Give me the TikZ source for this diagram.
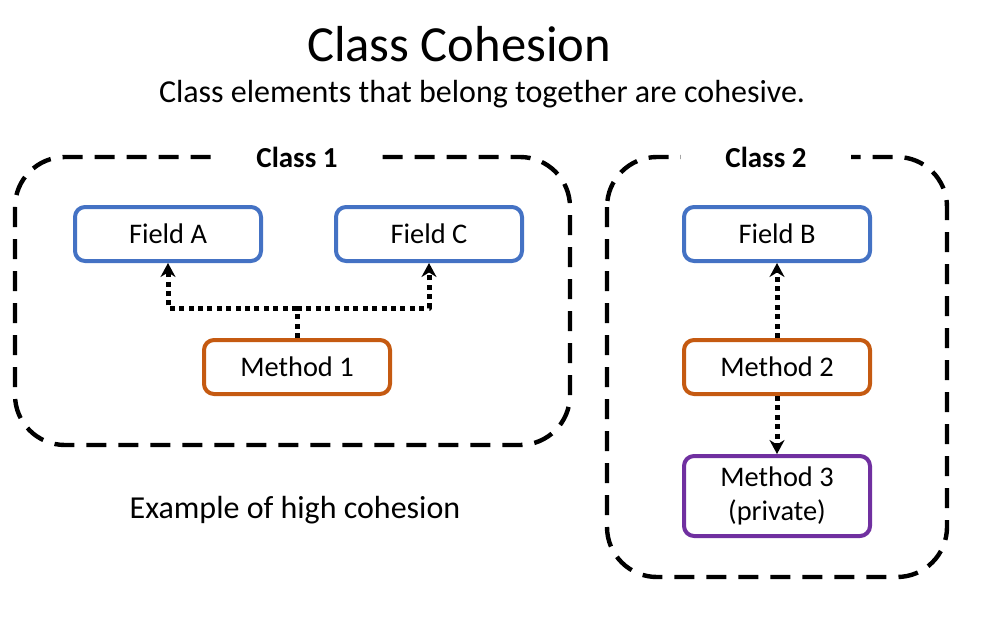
\documentclass[tikz,border=0pt]{standalone}
\usepackage{fontspec}
\setmainfont{Carlito}
\usetikzlibrary{arrows.meta}

\definecolor{fieldblue}{RGB}{68,114,196}
\definecolor{methodorange}{RGB}{197,90,17}
\definecolor{privpurple}{RGB}{112,48,160}

\begin{document}
\begin{tikzpicture}[line cap=round,line join=round,>={Stealth[length=7pt,width=7.5pt]},x=0.5pt,y=-0.5pt,
  classline/.style={line width=2.2pt,dash pattern=on 10pt off 6pt,line cap=butt,rounded corners=25pt},
  classlabel/.style={fill=white,font=\bfseries\fontsize{14.5}{16}\selectfont,inner xsep=22pt},
  member/.style={draw,line width=2pt,rounded corners=5pt,minimum width=93pt,minimum height=27pt,fill=white,font=\fontsize{14.2}{17}\selectfont,align=center},
  fieldbox/.style={member,draw=fieldblue},
  methodbox/.style={member,draw=methodorange},
  privbox/.style={member,draw=privpurple,minimum height=40pt},
  uses/.style={line width=2.5pt,dash pattern=on 2.5pt off 2.2pt,line cap=butt}]
\useasboundingbox (0,0) rectangle (1000,622);
% titles
\node[font=\fontsize{25.3}{30}\selectfont] (title) at (459,44) {Class Cohesion};
\node[font=\fontsize{16}{20}\selectfont] (subtitle) at (482,94) {Class elements that belong together are cohesive.};
% class 1
\draw[classline] (15,157) rectangle (570,445);
\node[classlabel] (c1) at (297,157) {Class 1};
\node[fieldbox] (fa) at (168,234) {Field A};
\node[fieldbox] (fc) at (429,234) {Field C};
\node[methodbox] (m1) at (297,367) {Method 1};
\coordinate (j1) at (297,308);
\draw[uses] (m1.north) -- (j1);
\draw[uses,->] (j1) -| (fa.south);
\draw[uses,->] (j1) -| (fc.south);
\node[font=\fontsize{16}{20}\selectfont] (note) at (295,510) {Example of high cohesion};
% class 2
\draw[classline] (607,157) rectangle (947,577);
\node[classlabel] (c2) at (766,157) {Class 2};
\node[fieldbox] (fb) at (777,234) {Field B};
\node[methodbox] (m2) at (777,367) {Method 2};
\node[privbox] (m3) at (777,496) {Method 3\\(private)};
\draw[uses,->] (m2) -- (fb);
\draw[uses,->] (m2) -- (m3);
\end{tikzpicture}
\end{document}
